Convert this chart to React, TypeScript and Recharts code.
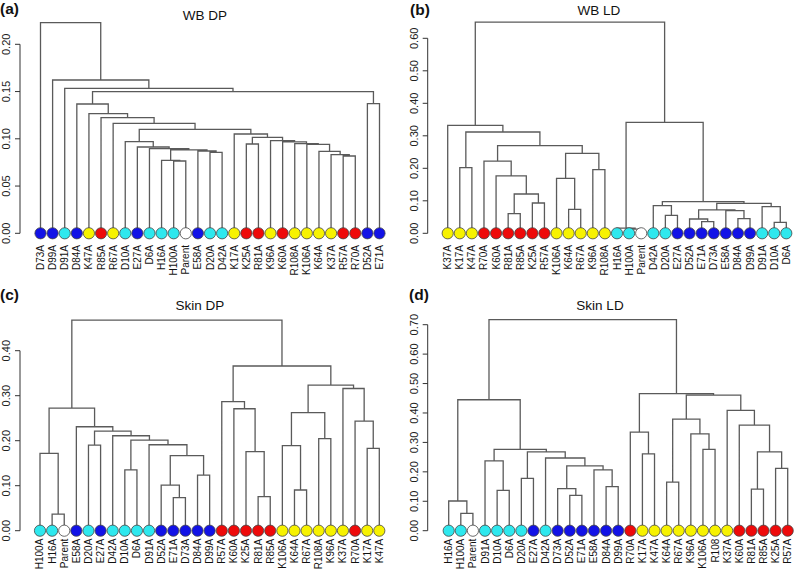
import React from 'react';
import { ComposedChart, Line, Scatter, XAxis, YAxis, ReferenceLine } from 'recharts';

// a merge joins two members (leaf label or index of an earlier merge) at a height
type Ref = string | number;
type Merge = [Ref, Ref, number];

const blueLeaves = ['D73A', 'D99A', 'D84A', 'E27A', 'E58A', 'D52A', 'E71A'];
const cyanLeaves = ['D91A', 'D10A', 'D6A', 'H16A', 'H100A', 'D20A', 'D42A'];
const yellowLeaves = ['K47A', 'R67A', 'K17A', 'K96A', 'R108A', 'R108', 'K106A', 'K64A', 'K37A'];
const redLeaves = ['R85A', 'K25A', 'R81A', 'K60A', 'R57A', 'R70A'];

// (a) WB DP
const leavesA = ['D73A', 'D99A', 'D91A', 'D84A', 'K47A', 'R85A', 'R67A', 'D10A', 'E27A', 'D6A', 'H16A', 'H100A', 'Parent', 'E58A', 'D20A', 'D42A', 'K17A', 'K25A', 'R81A', 'K96A', 'K60A', 'R108A', 'K106A', 'K64A', 'K37A', 'R57A', 'R70A', 'D52A', 'E71A'];
const mergesA: Merge[] = [
    ['H100A', 'Parent', 0.0765], ['H16A', 0, 0.0772], ['D20A', 'D42A', 0.0857], ['E58A', 2, 0.0871],
    [1, 3, 0.0882], ['D6A', 4, 0.0895], ['E27A', 5, 0.0913], ['D10A', 6, 0.097],
    ['R57A', 'R70A', 0.0818], ['K37A', 8, 0.0832], ['K64A', 9, 0.0866], ['K106A', 10, 0.094],
    ['R108A', 11, 0.095], ['K60A', 12, 0.0968], ['K96A', 13, 0.098], ['K25A', 'R81A', 0.0945],
    [15, 14, 0.1016], ['K17A', 16, 0.1051], [7, 17, 0.11], ['R67A', 18, 0.1164],
    ['R85A', 19, 0.1224], ['K47A', 20, 0.1266], ['D84A', 21, 0.1368], ['D52A', 'E71A', 0.1372],
    [22, 23, 0.15], ['D91A', 24, 0.1534], ['D99A', 25, 0.1622], ['D73A', 26, 0.2229],
];
const ticksA = [0, 0.05, 0.1, 0.15, 0.2];

// (b) WB LD
const leavesB = ['K37A', 'K17A', 'K47A', 'R70A', 'K60A', 'R81A', 'R85A', 'K25A', 'R57A', 'K106A', 'K64A', 'R67A', 'K96A', 'R108A', 'H16A', 'H100A', 'Parent', 'D42A', 'D20A', 'E27A', 'D52A', 'E71A', 'D73A', 'E58A', 'D84A', 'D99A', 'D91A', 'D10A', 'D6A'];
const mergesB: Merge[] = [
    ['K17A', 'K47A', 0.202], ['R81A', 'R85A', 0.0604], ['K25A', 'R57A', 0.0933], [1, 2, 0.121],
    ['K60A', 3, 0.177], ['R70A', 4, 0.222], ['K64A', 'R67A', 0.0735], ['K106A', 6, 0.169],
    ['K96A', 'R108A', 0.196], [7, 8, 0.246], [5, 9, 0.2697], [0, 10, 0.3117],
    ['K37A', 11, 0.332], ['H100A', 'Parent', 0.013], ['H16A', 13, 0.016], ['D20A', 'E27A', 0.055],
    ['D42A', 15, 0.085], ['E71A', 'D73A', 0.0358], ['D52A', 17, 0.044], ['D84A', 'D99A', 0.045],
    ['E58A', 19, 0.07], [18, 20, 0.072], ['D10A', 'D6A', 0.0338], ['D91A', 22, 0.082],
    [21, 23, 0.092], [16, 24, 0.0974], [14, 25, 0.3415], [12, 26, 0.65],
];
const ticksB = [0, 0.1, 0.2, 0.3, 0.4, 0.5, 0.6];

// (c) Skin DP
const leavesC = ['H100A', 'H16A', 'Parent', 'E58A', 'D20A', 'E27A', 'D42A', 'D10A', 'D6A', 'D91A', 'D52A', 'E71A', 'D73A', 'D84A', 'D99A', 'R57A', 'K60A', 'K25A', 'R81A', 'R85A', 'K106A', 'K64A', 'R67A', 'R108A', 'K96A', 'K37A', 'R70A', 'K17A', 'K47A'];
const mergesC: Merge[] = [
    ['H16A', 'Parent', 0.037], ['H100A', 0, 0.172], ['D20A', 'E27A', 0.19], ['D10A', 'D6A', 0.135],
    ['E71A', 'D73A', 0.0733], ['D52A', 4, 0.1015], ['D84A', 'D99A', 0.1237], [5, 6, 0.1667],
    ['D91A', 7, 0.191], [3, 8, 0.2015], ['D42A', 9, 0.211], [2, 10, 0.2215],
    ['E58A', 11, 0.231], [1, 12, 0.2726], ['R81A', 'R85A', 0.0756], ['K25A', 14, 0.1756],
    ['K60A', 15, 0.271], ['R57A', 16, 0.2867], ['K64A', 'R67A', 0.0904], ['K106A', 18, 0.189],
    ['R108A', 'K96A', 0.2044], [19, 20, 0.2622], ['K17A', 'K47A', 0.183], ['R70A', 22, 0.2437],
    ['K37A', 23, 0.316], [21, 24, 0.3237], [17, 25, 0.366], [13, 26, 0.468],
];
const ticksC = [0, 0.1, 0.2, 0.3, 0.4];

// (d) Skin LD
const leavesD = ['H16A', 'H100A', 'Parent', 'D91A', 'D10A', 'D6A', 'D20A', 'E27A', 'D42A', 'D73A', 'D52A', 'E71A', 'E58A', 'D84A', 'D99A', 'R70A', 'K17A', 'K47A', 'K64A', 'R67A', 'K96A', 'K106A', 'R108', 'K37A', 'K60A', 'R81A', 'R85A', 'K25A', 'R57A'];
const mergesD: Merge[] = [
    ['H100A', 'Parent', 0.059], ['H16A', 0, 0.101], ['D10A', 'D6A', 0.137], ['D91A', 2, 0.237],
    ['D20A', 'E27A', 0.178], ['D52A', 'E71A', 0.12], ['D73A', 5, 0.143], ['D84A', 'D99A', 0.15],
    ['E58A', 7, 0.207], [6, 8, 0.22], ['D42A', 9, 0.247], [4, 10, 0.268],
    [3, 11, 0.276], [1, 12, 0.445], ['K17A', 'K47A', 0.261], ['R70A', 14, 0.335],
    ['K64A', 'R67A', 0.165], ['K106A', 'R108', 0.276], ['K96A', 17, 0.329], [16, 18, 0.379],
    ['R81A', 'R85A', 0.141], ['K25A', 'R57A', 0.212], [20, 21, 0.268], ['K60A', 22, 0.359],
    ['K37A', 23, 0.409], [19, 24, 0.461], [15, 25, 0.466], [13, 26, 0.717],
];
const ticksD = [0, 0.1, 0.2, 0.3, 0.4, 0.5, 0.6, 0.7];

const FONT = '"Liberation Sans", Arial, Helvetica, sans-serif';
const W = 397;
const H = 290;
const X_AXIS_H = 50;

const colorOf = (label: string) => {
    if (blueLeaves.includes(label)) return '#1212e6';
    if (cyanLeaves.includes(label)) return '#2ee8ee';
    if (yellowLeaves.includes(label)) return '#f7f200';
    if (redLeaves.includes(label)) return '#ee0a0a';
    return '#ffffff';
};

// walk the merges R-style: each node sits at the midpoint of its two children
function buildDendro(leaves: string[], merges: Merge[]) {
    const pos: number[] = [];
    const hgt: number[] = [];
    const at = (r: Ref): [number, number] =>
        typeof r === 'number' ? [pos[r], hgt[r]] : [leaves.indexOf(r), 0];
    const links: { x: number; y: number | null }[] = [];
    merges.forEach(([a, b, h], i) => {
        const [xa, ha] = at(a);
        const [xb, hb] = at(b);
        links.push({ x: xa, y: ha }, { x: xa, y: h }, { x: xb, y: h }, { x: xb, y: hb }, { x: xb, y: null });
        pos[i] = (xa + xb) / 2;
        hgt[i] = h;
    });
    const dots = leaves.map((l, i) => ({ x: i, y: 0, color: colorOf(l) }));
    return { links, dots, top: Math.max(...hgt) };
}

interface PanelProps {
    leaves: string[];
    merges: Merge[];
    ticks: number[];
    left: number;
    top: number;
    spine: number;
    firstLeaf: number;
    lastLeaf: number;
    zeroY: number;
    pxPerUnit: number;
    labelGap: number;
}

const Dendro: React.FC<PanelProps> = (p) => {
    const { links, dots, top } = buildDendro(p.leaves, p.merges);
    const n = p.leaves.length;
    const step = (p.lastLeaf - p.firstLeaf) / (n - 1);
    const xLo = -(p.firstLeaf - p.spine) / step;
    const xHi = n - 1 + 0.5;
    const plotRight = p.lastLeaf + 0.5 * step;
    const margin = {
        top: p.zeroY - top * p.pxPerUnit,
        right: W - plotRight,
        bottom: H - p.zeroY - X_AXIS_H,
        left: 0,
    };
    const yLabelX = p.spine - 13.5;

    return (
        <div style={{ position: 'absolute', left: p.left, top: p.top }}>
            <ComposedChart width={W} height={H} margin={margin}>
                <XAxis
                    type="number"
                    dataKey="x"
                    domain={[xLo, xHi]}
                    ticks={p.leaves.map((_, i) => i)}
                    interval={0}
                    height={X_AXIS_H}
                    axisLine={false}
                    tickLine={false}
                    tickSize={0}
                    tickMargin={0}
                    tick={(t: any) => {
                        const ty = t.y + p.labelGap;
                        return (
                            <text
                                x={t.x}
                                y={ty}
                                transform={`rotate(-90, ${t.x}, ${ty})`}
                                textAnchor="end"
                                dominantBaseline="central"
                                fontSize={10}
                                fontFamily={FONT}
                                fill="#111"
                            >
                                {p.leaves[t.payload.value]}
                            </text>
                        );
                    }}
                />
                <YAxis
                    type="number"
                    dataKey="y"
                    domain={[0, top]}
                    ticks={p.ticks}
                    width={p.spine}
                    axisLine={false}
                    tickSize={5}
                    tickLine={{ stroke: '#333' }}
                    tick={(t: any) => (
                        <text
                            x={yLabelX}
                            y={t.y}
                            transform={`rotate(-90, ${yLabelX}, ${t.y})`}
                            textAnchor="middle"
                            dominantBaseline="central"
                            fontSize={11}
                            fontFamily={FONT}
                            fill="#222"
                        >
                            {Number(t.payload.value).toFixed(2)}
                        </text>
                    )}
                />
                <ReferenceLine
                    segment={[{ x: xLo, y: 0 }, { x: xLo, y: p.ticks[p.ticks.length - 1] }]}
                    stroke="#333"
                    ifOverflow="visible"
                />
                <Line
                    data={links}
                    dataKey="y"
                    type="linear"
                    stroke="#5a5a5a"
                    strokeWidth={1.3}
                    dot={false}
                    activeDot={false}
                    connectNulls={false}
                    isAnimationActive={false}
                />
                <Scatter
                    data={dots}
                    dataKey="y"
                    isAnimationActive={false}
                    shape={(s: any) => (
                        <circle cx={s.cx} cy={s.cy} r={5.6} fill={s.payload.color} stroke="#444" strokeWidth={0.8} />
                    )}
                />
            </ComposedChart>
        </div>
    );
};

const titles = [
    { text: 'WB DP', x: 205, y: 20 },
    { text: 'WB LD', x: 599, y: 15 },
    { text: 'Skin DP', x: 200, y: 310 },
    { text: 'Skin LD', x: 600, y: 310 },
];
const letters = [
    { text: '(a)', x: 0, y: 14 },
    { text: '(b)', x: 410, y: 15 },
    { text: '(c)', x: 0, y: 300 },
    { text: '(d)', x: 409, y: 300 },
];

export default function App() {
    return (
        <div style={{ position: 'absolute', left: 0, top: 0, width: 794, height: 573, background: '#fff', overflow: 'hidden' }}>
            <Dendro leaves={leavesA} merges={mergesA} ticks={ticksA} left={0} top={0}
                spine={20} firstLeaf={40.5} lastLeaf={379.5} zeroY={233.3} pxPerUnit={945} labelGap={11.7} />
            <Dendro leaves={leavesB} merges={mergesB} ticks={ticksB} left={397} top={0}
                spine={30.7} firstLeaf={50.7} lastLeaf={389.3} zeroY={233.3} pxPerUnit={325} labelGap={11.7} />
            <Dendro leaves={leavesC} merges={mergesC} ticks={ticksC} left={0} top={283}
                spine={20} firstLeaf={40} lastLeaf={379.3} zeroY={247.7} pxPerUnit={450} labelGap={8} />
            <Dendro leaves={leavesD} merges={mergesD} ticks={ticksD} left={397} top={283}
                spine={30.7} firstLeaf={51.7} lastLeaf={390.7} zeroY={247.7} pxPerUnit={294.3} labelGap={8} />
            <svg width={794} height={573} style={{ position: 'absolute', left: 0, top: 0, pointerEvents: 'none' }}>
                {titles.map((t) => (
                    <text key={t.text} x={t.x} y={t.y} textAnchor="middle" fontSize={13.5} fontFamily={FONT} fill="#111">
                        {t.text}
                    </text>
                ))}
                {letters.map((t) => (
                    <text key={t.text} x={t.x} y={t.y} fontSize={15.5} fontWeight="bold" fontFamily={FONT} fill="#111">
                        {t.text}
                    </text>
                ))}
            </svg>
        </div>
    );
}
